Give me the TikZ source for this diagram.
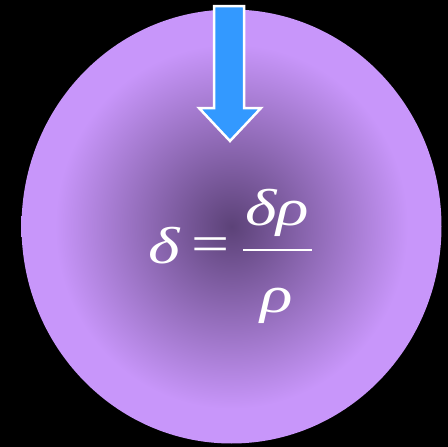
\documentclass[tikz,border=0pt]{standalone}
\usepackage{fontspec}
\newfontfamily\formulafont[FakeStretch=1.3]{Liberation Serif}
\usepackage{tikz}
\usetikzlibrary{positioning}

\definecolor{blobdark}{RGB}{92,66,120}
\definecolor{bloblight}{RGB}{200,150,250}
\definecolor{arrowblue}{RGB}{51,153,255}
\pgfdeclareradialshading{blob}{\pgfpoint{0bp}{0bp}}{%
  color(0bp)=(blobdark); color(21bp)=(bloblight); color(25bp)=(bloblight); color(50bp)=(bloblight)}

\begin{document}
\begin{tikzpicture}[x=1pt,y=-1pt,
    arrowbox/.style={fill=arrowblue,draw=white,line width=2.5pt,line join=miter},
    symbol/.style={text=white,font=\formulafont\itshape\fontsize{52}{62}\selectfont,inner sep=0pt}]
    \fill[black] (0,0) rectangle (448,447);
    \useasboundingbox (0,0) rectangle (448,447);

    % density blob
    \shade[shading=blob] (231.5,226.5) ellipse [x radius=210,y radius=217];

    % arrow pointing down
    \draw[arrowbox] (214,6) -- (244,6) -- (244,108) -- (261,108) -- (230,141)
        -- (199,108) -- (214,108) -- cycle;

    % delta = delta rho / rho
    \node[symbol,anchor=base west] (lhs) at (148,263) {δ};
    \node[symbol,font=\formulafont\fontsize{52}{62}\selectfont] (eq) at (211,250) {=};
    \node[symbol,anchor=base west] (num) at (245,225) {δρ};
    \node[symbol,anchor=base] (den) at (277,312) {ρ};
    \coordinate (barl) at (243,250);
    \coordinate (barr) at (312,250);
    \draw[white,line width=2.5pt] (barl) -- (barr);
\end{tikzpicture}
\end{document}
